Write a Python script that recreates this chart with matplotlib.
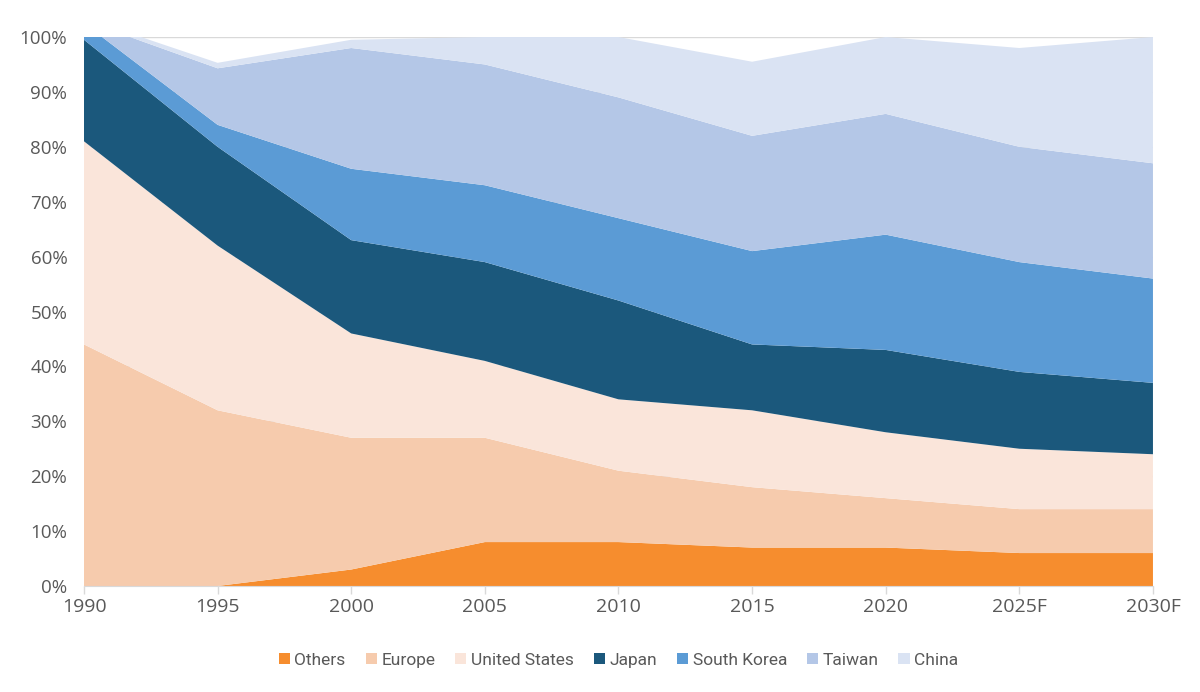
"""
Market share by region, stacked area (1990-2030F)
"""
import matplotlib
matplotlib.use('Agg')
import matplotlib.pyplot as plt
from matplotlib.ticker import MultipleLocator, FuncFormatter

years = ['1990', '1995', '2000', '2005', '2010', '2015', '2020', '2025F', '2030F']

# shares in percent (bottom to top)
others = [0, 0, 3, 8, 8, 7, 7, 6, 6]
europe = [44, 32, 24, 19, 13, 11, 9, 8, 8]
united_states = [37, 30, 19, 14, 13, 14, 12, 11, 10]
japan = [18.5, 18, 17, 18, 18, 12, 15, 14, 13]
south_korea = [3, 4, 13, 14, 15, 17, 21, 20, 19]
taiwan = [0.5, 10.3, 22, 22, 22, 21, 22, 21, 21]
china = [0.5, 1, 1.5, 5, 11, 13.5, 14, 18, 23]

labels = ['Others', 'Europe', 'United States', 'Japan',
          'South Korea', 'Taiwan', 'China']
colors = ['#F68D2E', '#F6CBAD', '#FAE5DA', '#1B587C',
          '#5B9BD5', '#B4C7E7', '#DAE3F3']

fig = plt.figure(figsize=(12, 6.92), dpi=100)
ax = fig.add_axes([0.07, 0.1532, 0.8908, 0.7933])

x = list(range(len(years)))
ax.stackplot(x, others, europe, united_states, japan, south_korea, taiwan, china,
             colors=colors, labels=labels, linewidth=0, zorder=2)

ax.set_xlim(0, len(years) - 1)
ax.set_ylim(0, 100)
ax.set_xticks(x)
ax.set_xticklabels(years)
ax.yaxis.set_major_locator(MultipleLocator(10))
ax.yaxis.set_major_formatter(FuncFormatter(lambda v, p: f'{v:.0f}%'))

# only the top gridline shows through
ax.grid(axis='y', color='#D9D9D9', linewidth=1, zorder=0)
ax.set_axisbelow(True)

for side in ['top', 'right', 'left']:
    ax.spines[side].set_visible(False)
ax.spines['bottom'].set_color('#D9D9D9')
ax.spines['bottom'].set_zorder(3)

ax.tick_params(axis='x', colors='#D9D9D9', length=6, width=1, pad=3,
               labelcolor='#595959', labelsize=14)
ax.tick_params(axis='y', length=0, pad=12, labelcolor='#595959', labelsize=13.5)
for lab in ax.get_xticklabels() + ax.get_yticklabels():
    lab.set_family('Open Sans')

ax.legend(loc='center', bbox_to_anchor=(0.5, -0.135), ncol=7, frameon=False,
          handlelength=0.65, handleheight=0.65, handletextpad=0.25,
          columnspacing=1.15,
          prop={'family': ['Liberation Sans Narrow', 'Roboto'], 'size': 12.5},
          labelcolor='#595959')

plt.savefig('out.png', dpi=100)
